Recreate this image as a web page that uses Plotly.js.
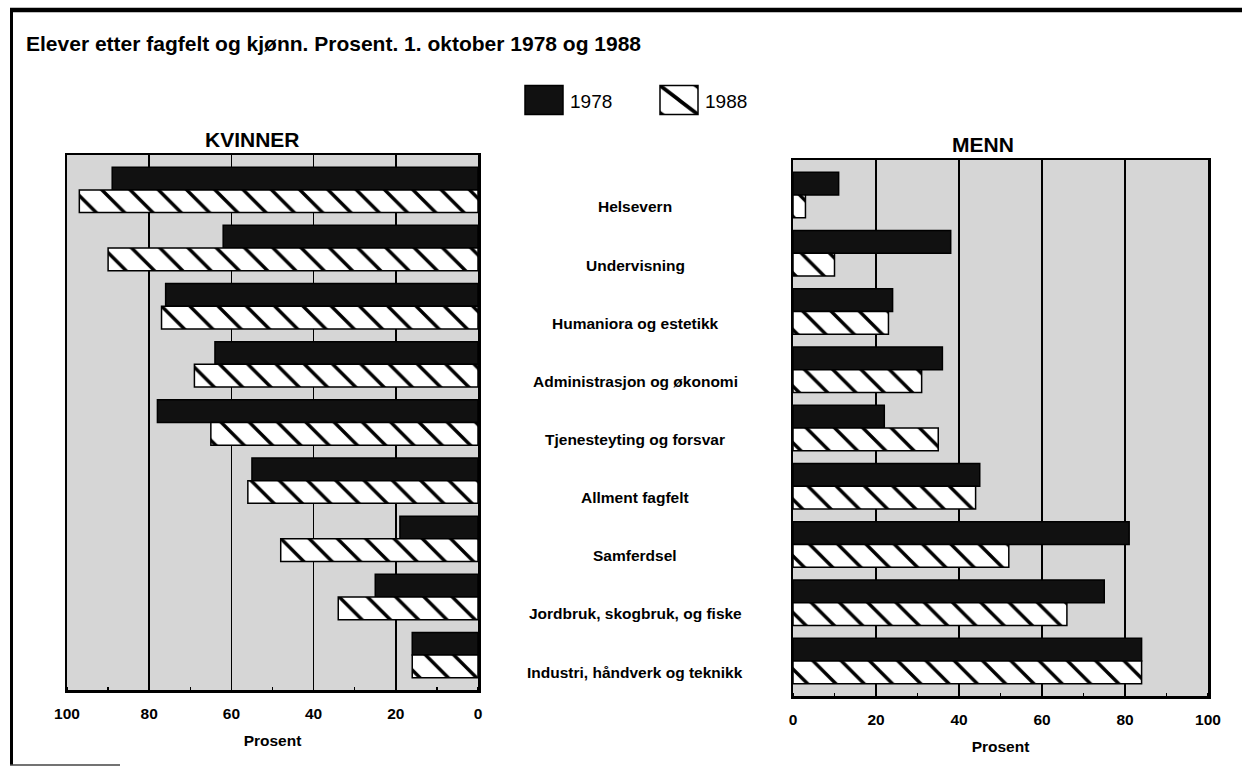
<!DOCTYPE html>
<html>
<head>
<meta charset="utf-8">
<script src="https://cdn.plot.ly/plotly-3.0.1.min.js"></script>
<style>
  html, body { margin: 0; padding: 0; background: #fff; }
  #chart { width: 1242px; height: 767px; }
</style>
</head>
<body>
<div id="chart"></div>
<script>
// ---- Data ----
const categories = [
  "Helsevern",
  "Undervisning",
  "Humaniora og estetikk",
  "Administrasjon og økonomi",
  "Tjenesteyting og forsvar",
  "Allment fagfelt",
  "Samferdsel",
  "Jordbruk, skogbruk, og fiske",
  "Industri, håndverk og teknikk"
];
const women1978 = [89, 62, 76, 64, 78, 55, 19, 25, 16];
const women1988 = [97, 90, 77, 69, 65, 56, 48, 34, 16];
const men1978   = [11, 38, 24, 36, 22, 45, 81, 75, 84];
const men1988   = [3, 10, 23, 31, 35, 44, 52, 66, 84];
const seriesNames = ["1978", "1988"];
const tickValues = [0, 20, 40, 60, 80, 100];
const panelTitles = ["KVINNER", "MENN"];
const mainTitle = "Elever etter fagfelt og kjønn. Prosent. 1. oktober 1978 og 1988";
const axisTitle = "Prosent";

// ---- Styles ----
const W = 1242, H = 767;
const FONT = "Liberation Sans, Arial, Helvetica, sans-serif";
const solidMarker = { color: "#111111", line: { color: "#000", width: 1.5 } };
const hatchMarker = {
  color: "#ffffff",
  line: { color: "#000", width: 1.5 },
  pattern: { shape: "\\", fgcolor: "#000", bgcolor: "#fff", size: 20, solidity: 0.17 }
};

function bar(x, name, marker, xa, ya, show) {
  return {
    type: "bar", orientation: "h", y: categories, x: x, name: name,
    marker: marker, xaxis: xa, yaxis: ya, legendgroup: name, showlegend: show,
    hoverinfo: "x+y"
  };
}

const traces = [
  bar(women1978, seriesNames[0], solidMarker, "x", "y", true),
  bar(women1988, seriesNames[1], hatchMarker, "x", "y", true),
  bar(men1978, seriesNames[0], solidMarker, "x2", "y2", false),
  bar(men1988, seriesNames[1], hatchMarker, "x2", "y2", false)
];

const px = v => v / W;
const py = v => 1 - v / H;

function xaxisCfg(range, domain) {
  return {
    domain: domain, range: range, autorange: false,
    tickvals: tickValues, ticks: "", showgrid: true,
    gridcolor: "#000", gridwidth: 1.6, zeroline: false,
    showline: true, mirror: true, linecolor: "#000", linewidth: 2.5,
    tickfont: { family: FONT, size: 15.5, color: "#000", weight: "bold" },
    ticklabelstandoff: 8,
    minor: { dtick: 10, ticks: "inside", ticklen: 3, tickcolor: "#000", tickwidth: 1.5, showgrid: false },
    title: { text: axisTitle, font: { family: FONT, size: 15.5, color: "#000", weight: "bold" }, standoff: 14 },
    fixedrange: true
  };
}
function yaxisCfg(domain, anchor) {
  return {
    domain: domain, anchor: anchor, type: "category",
    categoryorder: "array", categoryarray: categories,
    range: [8.6, -0.6], autorange: false,
    showticklabels: false, ticks: "", showgrid: false, zeroline: false,
    showline: true, mirror: true, linecolor: "#000", linewidth: 2.5,
    fixedrange: true
  };
}

const annotations = [
  { text: panelTitles[0], xref: "paper", yref: "paper", x: px(252), y: py(139),
    xanchor: "center", yanchor: "middle", showarrow: false,
    font: { family: FONT, size: 21, color: "#000", weight: "bold" } },
  { text: panelTitles[1], xref: "paper", yref: "paper", x: px(983), y: py(144),
    xanchor: "center", yanchor: "middle", showarrow: false,
    font: { family: FONT, size: 21, color: "#000", weight: "bold" } }
].concat(categories.map(c => ({
  text: c, xref: "paper", yref: "y", x: px(635), y: c, yshift: -17,
  xanchor: "center", yanchor: "middle", showarrow: false,
  font: { family: FONT, size: 15.5, color: "#000", weight: "bold" }
})));

const layout = {
  width: W, height: H,
  margin: { l: 0, r: 0, t: 0, b: 0, pad: 0 },
  paper_bgcolor: "#fff", plot_bgcolor: "#d6d6d6",
  barmode: "group", bargap: 0.22, bargroupgap: 0,
  title: { text: mainTitle, x: px(26), xanchor: "left", xref: "paper",
           y: py(44), yanchor: "middle", yref: "paper",
           font: { family: FONT, size: 21, color: "#000", weight: "bold" } },
  xaxis: xaxisCfg([100, 0], [px(67), px(478)]),
  yaxis: yaxisCfg([1 - 690 / H, 1 - 155 / H], "x"),
  xaxis2: Object.assign(xaxisCfg([0, 100], [px(793), px(1208)]), { anchor: "y2" }),
  yaxis2: yaxisCfg([1 - 696 / H, 1 - 160 / H], "x2"),
  showlegend: true,
  legend: {
    orientation: "h", x: px(520), xanchor: "left", y: py(101), yanchor: "middle",
    font: { family: FONT, size: 19, color: "#000" },
    itemwidth: 40, entrywidth: 80, entrywidthmode: "pixels",
    bgcolor: "rgba(0,0,0,0)", traceorder: "normal", itemclick: false, itemdoubleclick: false
  },
  annotations: annotations,
  shapes: [
    { type: "line", xref: "paper", yref: "paper", x0: px(10), x1: 1, y0: py(10), y1: py(10),
      line: { color: "#000", width: 4.5 } },
    { type: "line", xref: "paper", yref: "paper", x0: px(11.5), x1: px(11.5), y0: py(8), y1: py(765),
      line: { color: "#000", width: 3 } },
    { type: "line", xref: "paper", yref: "paper", x0: px(10), x1: px(120), y0: py(765), y1: py(765),
      line: { color: "#444", width: 1.5 } }
  ]
};

Plotly.newPlot("chart", traces, layout, { displayModeBar: false, staticPlot: true }).then(() => {
  // enlarge legend keys to match the reference's big swatches, placed just left of each label
  document.querySelectorAll("#chart .legend .traces").forEach(tr => {
    const text = tr.querySelector(".legendtext");
    const path = tr.querySelector(".legendpoints path");
    if (!text || !path) return;
    const tb = text.getBoundingClientRect();
    const bb = path.getBBox();
    const ctm = path.parentNode.getScreenCTM();
    const wantW = 38, wantH = 29;
    const sx = wantW / bb.width, sy = wantH / bb.height;
    const lx = bb.x + bb.width / 2, ly = bb.y + bb.height / 2;
    const targetCx = tb.left - 7 - wantW / 2;
    const targetCy = 100;
    const tx = targetCx - ctm.e - sx * lx;
    const ty = targetCy - ctm.f - sy * ly;
    path.setAttribute("transform", "translate(" + tx + "," + ty + ") scale(" + sx + "," + sy + ")");
    path.style.vectorEffect = "non-scaling-stroke";
  });
});
</script>
</body>
</html>
